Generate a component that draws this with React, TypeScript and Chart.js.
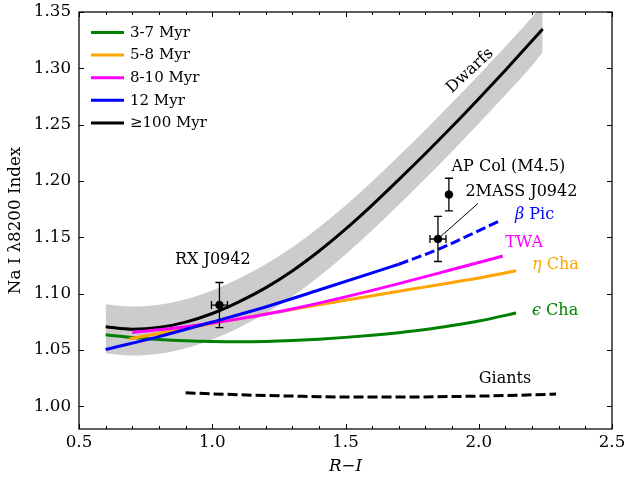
import React, { useEffect, useRef } from 'react';
import { Chart, registerables } from 'chart.js';

Chart.register(...registerables);

const FONT = "'DejaVu Serif', serif";

// ---- data ----
const dwarfX = [0.6, 0.7, 0.8, 0.9, 1.0, 1.1, 1.2, 1.3, 1.4, 1.5, 1.6, 1.7, 1.8, 1.9, 2.0, 2.1, 2.2, 2.24];
const dwarfY = [1.0707, 1.0685, 1.07, 1.0748, 1.0825, 1.0928, 1.1052, 1.1202, 1.1377, 1.1573, 1.1787, 1.2013, 1.2245, 1.2484, 1.2731, 1.2984, 1.3244, 1.335];
const dwarfUpper = [1.0907, 1.0886, 1.0902, 1.0951, 1.103, 1.1136, 1.1261, 1.1412, 1.1587, 1.1783, 1.1997, 1.2223, 1.2455, 1.2694, 1.2941, 1.3194, 1.3454, 1.356];
const dwarfLower = [1.0472, 1.0452, 1.0468, 1.0517, 1.0595, 1.0699, 1.0824, 1.0975, 1.1151, 1.1348, 1.1563, 1.179, 1.2023, 1.2263, 1.2511, 1.2764, 1.3024, 1.314];

const greenX = [0.6, 0.7, 0.8, 0.9, 1.0, 1.1, 1.2, 1.3, 1.4, 1.5, 1.6, 1.7, 1.8, 1.9, 2.0, 2.1, 2.14];
const greenY = [1.0636, 1.0612, 1.0595, 1.0583, 1.0576, 1.0574, 1.0577, 1.0585, 1.0597, 1.0613, 1.0632, 1.0655, 1.0683, 1.0718, 1.0758, 1.0808, 1.083];

const orangeX = [0.69, 0.8, 0.9, 1.0, 1.1, 1.2, 1.3, 1.4, 1.5, 1.6, 1.7, 1.8, 1.9, 2.0, 2.14];
const orangeY = [1.06, 1.0648, 1.0693, 1.0736, 1.0778, 1.082, 1.0861, 1.0902, 1.0943, 1.0983, 1.1022, 1.1061, 1.11, 1.114, 1.1204];

const magentaX = [0.7, 0.8, 0.9, 1.0, 1.1, 1.2, 1.3, 1.4, 1.5, 1.6, 1.7, 1.8, 1.9, 2.0, 2.09];
const magentaY = [1.0657, 1.068, 1.0708, 1.074, 1.0777, 1.0818, 1.0865, 1.0917, 1.0972, 1.103, 1.109, 1.1152, 1.1215, 1.1277, 1.1335];

const blueSolidX = [0.6, 0.8, 1.0, 1.2, 1.4, 1.6, 1.7];
const blueSolidY = [1.0506, 1.062, 1.075, 1.0883, 1.1033, 1.1185, 1.1262];
const blueDashX = [1.7, 1.848, 1.96, 2.08];
const blueDashY = [1.1262, 1.1394, 1.1515, 1.1648];

const giantX = [0.9, 1.0, 1.1, 1.2, 1.3, 1.4, 1.5, 1.6, 1.7, 1.8, 1.9, 2.0, 2.1, 2.2, 2.29];
const giantY = [1.0121, 1.0112, 1.0104, 1.0097, 1.0092, 1.0087, 1.0084, 1.0083, 1.0083, 1.0085, 1.0088, 1.0092, 1.0097, 1.0103, 1.011];

const objName = ['RX J0942', 'AP Col (M4.5)', '2MASS J0942'];
const objX = [1.027, 1.888, 1.847];
const objY = [1.09, 1.188, 1.1486];
const objXErr = [0.03, 0, 0.03];
const objYErr = [0.02, 0.0145, 0.02];

const xMajorTicks = [0.5, 1.0, 1.5, 2.0, 2.5];
const xMinorTicks = [0.6, 0.7, 0.8, 0.9, 1.1, 1.2, 1.3, 1.4, 1.6, 1.7, 1.8, 1.9, 2.1, 2.2, 2.3, 2.4];
const yTicks = [1.0, 1.05, 1.1, 1.15, 1.2, 1.25, 1.3, 1.35];

const legendLabels = ['3-7 Myr', '5-8 Myr', '8-10 Myr', '12 Myr', '≥100 Myr'];
const legendColors = ['#008000', '#ffa500', '#ff00ff', '#0000ff', '#000000'];

type Part = { t: string; italic?: boolean };
const annotations: { parts: Part[]; x: number; y: number; color: string; align: 'left' | 'center'; rotate?: number }[] = [
  { parts: [{ t: 'Dwarfs' }], x: 1.967, y: 1.2978, color: '#000', align: 'center', rotate: -43 },
  { parts: [{ t: 'AP Col (M4.5)' }], x: 1.898, y: 1.2128, color: '#000', align: 'left' },
  { parts: [{ t: '2MASS J0942' }], x: 1.95, y: 1.19, color: '#000', align: 'left' },
  { parts: [{ t: 'β', italic: true }, { t: ' Pic' }], x: 2.136, y: 1.1699, color: '#0000ff', align: 'left' },
  { parts: [{ t: 'TWA' }], x: 2.099, y: 1.1456, color: '#ff00ff', align: 'left' },
  { parts: [{ t: 'η', italic: true }, { t: ' Cha' }], x: 2.2, y: 1.1255, color: '#ffa500', align: 'left' },
  { parts: [{ t: 'ϵ', italic: true }, { t: ' Cha' }], x: 2.2, y: 1.085, color: '#008000', align: 'left' },
  { parts: [{ t: 'RX J0942' }], x: 0.86, y: 1.13, color: '#000', align: 'left' },
  { parts: [{ t: 'Giants' }], x: 2.0, y: 1.0249, color: '#000', align: 'left' },
];
const leader = { from: 2, toX: 1.997, toY: 1.1801 };

const pts = (xs: number[], ys: number[]) => xs.map((x, i) => ({ x, y: ys[i] }));

const lineDs = (label: string, xs: number[], ys: number[], color: string, dash: number[] = []) => ({
  label,
  data: pts(xs, ys),
  showLine: true,
  borderColor: color,
  backgroundColor: color,
  borderWidth: 3,
  borderDash: dash,
  pointRadius: 0,
  cubicInterpolationMode: 'monotone' as const,
  fill: false,
});

const overlayPlugin = {
  id: 'overlay',
  afterDatasetsDraw(chart: any) {
    const { ctx, chartArea: a, scales } = chart;
    const xs = scales.x;
    const ys = scales.y;
    ctx.save();

    // error bars
    ctx.strokeStyle = '#000';
    ctx.lineWidth = 1.3;
    objX.forEach((xv, i) => {
      const px = xs.getPixelForValue(xv);
      const py = ys.getPixelForValue(objY[i]);
      const cap = 4;
      if (objYErr[i] > 0) {
        const t = ys.getPixelForValue(objY[i] + objYErr[i]);
        const b = ys.getPixelForValue(objY[i] - objYErr[i]);
        ctx.beginPath();
        ctx.moveTo(px, t); ctx.lineTo(px, b);
        ctx.moveTo(px - cap, t); ctx.lineTo(px + cap, t);
        ctx.moveTo(px - cap, b); ctx.lineTo(px + cap, b);
        ctx.stroke();
      }
      if (objXErr[i] > 0) {
        const l = xs.getPixelForValue(xv - objXErr[i]);
        const r = xs.getPixelForValue(xv + objXErr[i]);
        ctx.beginPath();
        ctx.moveTo(l, py); ctx.lineTo(r, py);
        ctx.moveTo(l, py - cap); ctx.lineTo(l, py + cap);
        ctx.moveTo(r, py - cap); ctx.lineTo(r, py + cap);
        ctx.stroke();
      }
    });

    // leader line
    ctx.lineWidth = 1;
    ctx.beginPath();
    ctx.moveTo(xs.getPixelForValue(objX[leader.from]), ys.getPixelForValue(objY[leader.from]));
    ctx.lineTo(xs.getPixelForValue(leader.toX), ys.getPixelForValue(leader.toY));
    ctx.stroke();

    // annotations
    ctx.textBaseline = 'middle';
    annotations.forEach((an) => {
      const px = xs.getPixelForValue(an.x);
      const py = ys.getPixelForValue(an.y);
      const fonts = an.parts.map((p) => `${p.italic ? 'italic ' : ''}16px ${FONT}`);
      let total = 0;
      const widths = an.parts.map((p, i) => {
        ctx.font = fonts[i];
        const w = ctx.measureText(p.t).width;
        total += w;
        return w;
      });
      ctx.save();
      ctx.translate(px, py);
      if (an.rotate) ctx.rotate((an.rotate * Math.PI) / 180);
      let cx = an.align === 'center' ? -total / 2 : 0;
      ctx.fillStyle = an.color;
      ctx.textAlign = 'left';
      an.parts.forEach((p, i) => {
        ctx.font = fonts[i];
        ctx.fillText(p.t, cx, 0);
        cx += widths[i];
      });
      ctx.restore();
    });

    // legend
    ctx.textAlign = 'left';
    ctx.textBaseline = 'middle';
    ctx.font = `15px ${FONT}`;
    legendLabels.forEach((lab, i) => {
      const y = a.top + 20.5 + i * 22.6;
      ctx.strokeStyle = legendColors[i];
      ctx.lineWidth = 3;
      ctx.beginPath();
      ctx.moveTo(a.left + 12, y);
      ctx.lineTo(a.left + 45, y);
      ctx.stroke();
      ctx.fillStyle = '#000';
      ctx.fillText(lab, a.left + 51, y + 0.5);
    });

    // frame and inward ticks
    ctx.strokeStyle = '#000';
    ctx.lineWidth = 1.25;
    ctx.strokeRect(a.left, a.top, a.right - a.left, a.bottom - a.top);
    ctx.lineWidth = 1;
    ctx.beginPath();
    xMajorTicks.forEach((v) => {
      const px = Math.round(xs.getPixelForValue(v)) + 0.5;
      ctx.moveTo(px, a.bottom); ctx.lineTo(px, a.bottom - 5);
      ctx.moveTo(px, a.top); ctx.lineTo(px, a.top + 5);
    });
    xMinorTicks.forEach((v) => {
      const px = Math.round(xs.getPixelForValue(v)) + 0.5;
      ctx.moveTo(px, a.bottom); ctx.lineTo(px, a.bottom - 3);
      ctx.moveTo(px, a.top); ctx.lineTo(px, a.top + 3);
    });
    yTicks.forEach((v) => {
      const py = Math.round(ys.getPixelForValue(v)) + 0.5;
      ctx.moveTo(a.left, py); ctx.lineTo(a.left + 5, py);
      ctx.moveTo(a.right, py); ctx.lineTo(a.right - 5, py);
    });
    ctx.stroke();
    ctx.restore();
  },
};

export default function App() {
  const ref = useRef<HTMLCanvasElement | null>(null);
  useEffect(() => {
    document.body.style.margin = '0';
    const canvas = ref.current;
    if (!canvas) return;
    const tickFont = { family: FONT, size: 16.7 };
    const chart = new Chart(canvas, {
      type: 'scatter',
      data: {
        datasets: [
          {
            label: 'objects',
            data: pts(objX, objY),
            pointRadius: 3.8,
            pointBackgroundColor: '#000',
            pointBorderColor: '#000',
            showLine: false,
          } as any,
          lineDs('12 Myr', blueSolidX, blueSolidY, '#0000ff'),
          lineDs('12 Myr dashed', blueDashX, blueDashY, '#0000ff', [10, 4]),
          lineDs('8-10 Myr', magentaX, magentaY, '#ff00ff'),
          lineDs('5-8 Myr', orangeX, orangeY, '#ffa500'),
          lineDs('3-7 Myr', greenX, greenY, '#008000'),
          lineDs('>=100 Myr', dwarfX, dwarfY, '#000000'),
          lineDs('Giants', giantX, giantY, '#000000', [10, 4]),
          {
            label: 'band upper',
            data: pts(dwarfX, dwarfUpper),
            showLine: true,
            borderWidth: 0,
            borderColor: 'rgba(0,0,0,0)',
            backgroundColor: '#cccccc',
            pointRadius: 0,
            cubicInterpolationMode: 'monotone',
            fill: '+1',
          } as any,
          {
            label: 'band lower',
            data: pts(dwarfX, dwarfLower),
            showLine: true,
            borderWidth: 0,
            borderColor: 'rgba(0,0,0,0)',
            backgroundColor: '#cccccc',
            pointRadius: 0,
            cubicInterpolationMode: 'monotone',
            fill: false,
          } as any,
        ],
      },
      options: {
        responsive: false,
        animation: false,
        devicePixelRatio: 1,
        events: [],
        layout: { padding: { left: 0, right: 16, top: 12, bottom: 0 } },
        plugins: { legend: { display: false }, tooltip: { enabled: false } },
        scales: {
          x: {
            type: 'linear',
            min: 0.5,
            max: 2.5,
            grid: { display: false, drawTicks: false },
            border: { display: false },
            ticks: {
              font: tickFont,
              color: '#000',
              padding: 4,
              autoSkip: false,
              maxRotation: 0,
              callback: (v: any) => Number(v).toFixed(1),
            },
            afterBuildTicks: (s: any) => {
              s.ticks = xMajorTicks.map((v) => ({ value: v }));
            },
            afterFit: (s: any) => {
              s.height = 48;
              s.paddingLeft = 0;
              s.paddingRight = 0;
            },
            title: {
              display: true,
              text: 'R−I',
              color: '#000',
              font: { family: FONT, size: 16.7, style: 'italic' },
              padding: { top: 0, bottom: 0 },
            },
          },
          y: {
            type: 'linear',
            min: 0.98,
            max: 1.35,
            grid: { display: false, drawTicks: false },
            border: { display: false },
            ticks: {
              font: tickFont,
              color: '#000',
              padding: 8,
              autoSkip: false,
              callback: (v: any) => Number(v).toFixed(2),
            },
            afterBuildTicks: (s: any) => {
              s.ticks = yTicks.map((v) => ({ value: v }));
            },
            afterFit: (s: any) => {
              s.width = 79;
              s.paddingTop = 0;
              s.paddingBottom = 0;
            },
            title: {
              display: true,
              text: 'Na I λ8200 Index',
              color: '#000',
              font: { family: FONT, size: 16.7 },
              padding: { top: 6, bottom: 0 },
            },
          },
        },
      } as any,
      plugins: [overlayPlugin],
    });
    return () => chart.destroy();
  }, []);
  return (
    <canvas
      ref={ref}
      width={628}
      height={477}
      style={{ position: 'absolute', left: 0, top: 0, width: 628, height: 477 }}
    />
  );
}
